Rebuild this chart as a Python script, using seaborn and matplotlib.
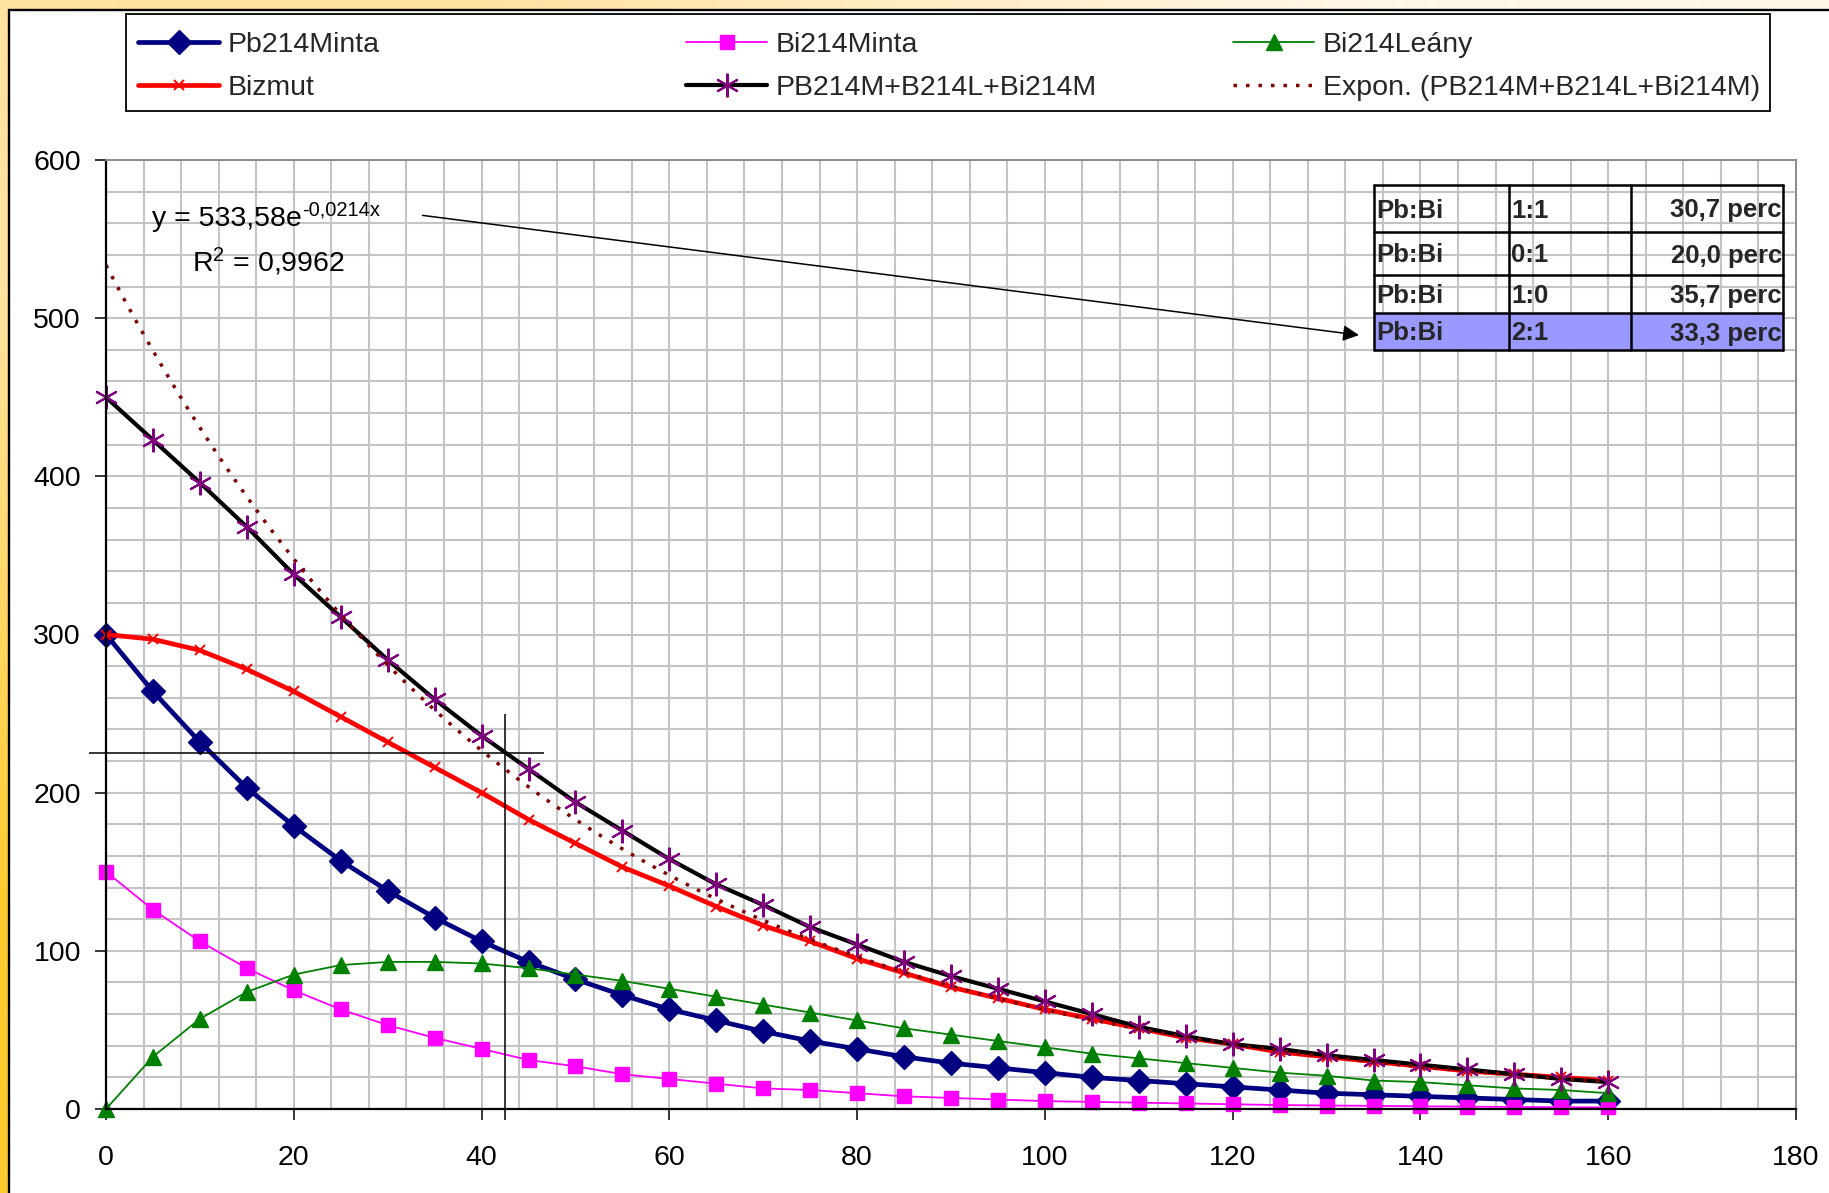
import numpy as np
import matplotlib
matplotlib.use("Agg")
import matplotlib.pyplot as plt
import seaborn as sns
from matplotlib.patches import Rectangle
from matplotlib.lines import Line2D
from matplotlib.ticker import MultipleLocator

# ---------------- data ----------------
minutes = list(range(0, 165, 5))
pb214_minta = [300, 264, 232, 203, 179, 157, 138, 121, 106, 93, 82, 72, 63, 56, 49, 43,
               38, 33, 29, 26, 23, 20, 18, 16, 14, 12, 10, 9, 8, 7, 6, 5, 5]
bi214_minta = [150, 126, 106, 89, 75, 63, 53, 45, 38, 31, 27, 22, 19, 16, 13, 12,
               10, 8, 7, 6, 5, 4.5, 4, 3.5, 3, 2.5, 2.2, 2, 1.7, 1.5, 1.3, 1.1, 1]
bi214_leany = [0, 33, 57, 74, 85, 91, 93, 93, 92, 89, 85, 81, 76, 71, 66, 61,
               56, 51, 47, 43, 39, 35, 32, 29, 26, 23, 21, 18, 17, 15, 13, 12, 10]
bizmut = [300, 297, 290, 278, 264, 248, 232, 216, 200, 183, 168, 153, 141, 128, 116, 106,
          95, 86, 77, 70, 63, 57, 51, 45, 41, 36, 33, 30, 27, 24, 22, 20, 18]
osszeg = [450, 423, 396, 368, 338, 311, 284, 259, 236, 215, 194, 176, 158, 142, 129, 115,
          104, 93, 84, 76, 68, 60, 52, 46, 41, 38, 34, 31, 28, 25, 22, 19, 17]
fit_a = 533.58
fit_b = -0.0214
fit_r2 = 0.9962

series_labels = ["Pb214Minta", "Bi214Minta", "Bi214Leány", "Bizmut",
                 "PB214M+B214L+Bi214M", "Expon. (PB214M+B214L+Bi214M)"]
table_name = ["Pb:Bi", "Pb:Bi", "Pb:Bi", "Pb:Bi"]
table_ratio = ["1:1", "0:1", "1:0", "2:1"]
table_time = ["30,7 perc", "20,0 perc", "35,7 perc", "33,3 perc"]
x_ticks = list(range(0, 181, 20))
y_ticks = list(range(0, 601, 100))
guide_x = 42.5
guide_y = 225

# ---------------- style ----------------
sns.set_theme(style="white")
plt.rcParams['font.family'] = ['Liberation Sans', 'DejaVu Sans']
plt.rcParams['mathtext.fontset'] = 'custom'
plt.rcParams['mathtext.rm'] = 'Liberation Sans'
plt.rcParams['mathtext.it'] = 'Liberation Sans:italic'
plt.rcParams['mathtext.bf'] = 'Liberation Sans:bold'

W, H = 1829, 1193
fig = plt.figure(figsize=(W / 100, H / 100), dpi=100)


def fx(x):
    return x / W


def fy(y):
    return 1 - y / H


# background frame (gold gradient border)
bg = fig.add_axes([0, 0, 1, 1], zorder=-10)
grad = np.array([[[255, 226, 160], [255, 247, 232]],
                 [[255, 204, 48], [255, 236, 190]]]) / 255.0
bg.imshow(grad, extent=[0, W, H, 0], aspect='auto', interpolation='bilinear')
bg.add_patch(Rectangle((8, 9), W - 8, H - 9, facecolor='white', edgecolor='none'))
bg.plot([8.5, 8.5], [9, H], color='black', lw=1.7, solid_capstyle='butt')
bg.plot([8, W], [9.5, 9.5], color='black', lw=1.7, solid_capstyle='butt')
bg.set_xlim(0, W)
bg.set_ylim(H, 0)
bg.axis('off')

ax = fig.add_axes([fx(106), fy(1109), fx(1796) - fx(106), (1109 - 160) / H])
ax.set_facecolor('white')

styles = [
    dict(color='#000080', lw=3.4, marker='D', ms=12, mfc='#000080', mec='#000080', mew=1),
    dict(color='#FF00FF', lw=1.3, marker='s', ms=9.5, mfc='#FF00FF', mec='#FF00FF', mew=1),
    dict(color='#008000', lw=1.3, marker='^', ms=11, mfc='#008000', mec='#008000', mew=1),
    dict(color='#FF0000', lw=3.4, marker='x', ms=7.5, mfc='#FF0000', mec='#FF0000', mew=1.4),
    dict(color='#000000', lw=3.0, marker=(6, 2, 0), ms=17, mfc='#800080', mec='#800080', mew=1.5),
]
series = [pb214_minta, bi214_minta, bi214_leany, bizmut, osszeg]
for vals, lab, st in zip(series, series_labels[:5], styles):
    sns.lineplot(x=minutes, y=vals, ax=ax, label=lab, clip_on=False, **st)

fit_x = np.linspace(minutes[0], minutes[-1], 161)
fit_y = fit_a * np.exp(fit_b * fit_x)
sns.lineplot(x=fit_x, y=fit_y, ax=ax, color='#800000', lw=2.5,
             linestyle=(0, (1, 2.6)), label=series_labels[5])

ax.set_xlim(0, 180)
ax.set_ylim(0, 600)
ax.set_xticks(x_ticks)
ax.set_yticks(y_ticks)
ax.xaxis.set_minor_locator(MultipleLocator(4))
ax.yaxis.set_minor_locator(MultipleLocator(20))
ax.grid(True, which='both', color='#C4C4C4', lw=1.5)
ax.set_axisbelow(True)
ax.tick_params(which='minor', length=0, left=False, bottom=False)
ax.tick_params(which='major', direction='out', length=8, width=1.1, color='black',
               labelsize=20.5, labelcolor='black', left=True, bottom=True)
ax.tick_params(axis='x', pad=18)
ax.tick_params(axis='y', pad=10)
for s in ['left', 'bottom']:
    ax.spines[s].set(color='black', lw=1.6)
for s in ['top', 'right']:
    ax.spines[s].set(color='#8C8C8C', lw=1.4)
ax.set_xlabel('')
ax.set_ylabel('')

# guide lines
ax.hlines(guide_y, -1.8, 46.6, color='black', lw=1.1, clip_on=False, zorder=5)
ax.vlines(guide_x, -7, 250, color='black', lw=1.1, clip_on=False, zorder=5)

# trendline equation and arrow
a_txt = f"{fit_a:.2f}".replace('.', ',')
b_txt = f"{fit_b:.4f}".replace('.', ',')
r_txt = f"{fit_r2:.4f}".replace('.', ',')
t_main = ax.text(4.9, 563, 'y = ' + a_txt + 'e', fontsize=20.5,
                 ha='left', va='center', color='black')
ax.annotate(b_txt + 'x', xy=(1, 1), xycoords=t_main, xytext=(0.5, -3),
            textcoords='offset points', fontsize=14.5, ha='left', va='center',
            color='black')
ax.text(9.2, 535.5, 'R$^{\\mathregular{2}}$ = ' + r_txt, fontsize=20.5,
        ha='left', va='center', color='black')
ax.annotate('', xy=(133.45, 489.3), xytext=(33.7, 565),
            arrowprops=dict(arrowstyle='-|>', color='black', lw=1.1,
                            mutation_scale=24, shrinkA=0, shrinkB=0),
            annotation_clip=False)

# table
col_x = [1374, 1509, 1631, 1783]
row_y = [185, 232, 275, 313, 350]
fig.add_artist(Rectangle((fx(col_x[0]), fy(row_y[4])), fx(col_x[3]) - fx(col_x[0]),
                         (row_y[4] - row_y[3]) / H, transform=fig.transFigure,
                         facecolor='#9999FF', edgecolor='none', zorder=5))
for yy in row_y:
    fig.add_artist(Line2D([fx(col_x[0]), fx(col_x[3])], [fy(yy), fy(yy)],
                          transform=fig.transFigure, color='black', lw=1.8, zorder=6))
for xx in col_x:
    fig.add_artist(Line2D([fx(xx), fx(xx)], [fy(row_y[0]), fy(row_y[4])],
                          transform=fig.transFigure, color='black', lw=1.8, zorder=6))
for i in range(4):
    cy = fy((row_y[i] + row_y[i + 1]) / 2 + 2)
    fig.text(fx(col_x[0] + 2), cy, table_name[i], fontsize=18.5, fontweight='bold',
             ha='left', va='center', zorder=7)
    fig.text(fx(col_x[1] + 2), cy, table_ratio[i], fontsize=18.5, fontweight='bold',
             ha='left', va='center', zorder=7)
    fig.text(fx(col_x[3] - 1), cy, table_time[i], fontsize=18.5, fontweight='bold',
             ha='right', va='center', zorder=7)

# legend
handles, labels = ax.get_legend_handles_labels()
if ax.get_legend() is not None:
    ax.get_legend().remove()
fig.add_artist(Rectangle((fx(126), fy(111)), fx(1770) - fx(126), (111 - 14) / H,
                         transform=fig.transFigure, fill=False, edgecolor='black', lw=1.3))
col_pairs = [(0, 3), (1, 4), (2, 5)]
col_left = [138, 686, 1233]
for c, (i, j) in enumerate(col_pairs):
    fig.legend([handles[i], handles[j]], [labels[i], labels[j]], loc='upper left',
               bbox_to_anchor=(fx(col_left[c]), fy(31.5)), frameon=False, fontsize=20.5,
               handlelength=2.85, handletextpad=0.3, labelspacing=0.62, borderpad=0,
               borderaxespad=0, numpoints=1)

fig.savefig('out.png', dpi=100)
